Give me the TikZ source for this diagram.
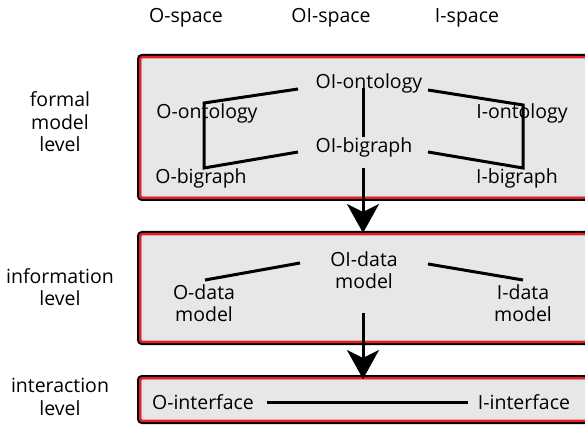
\documentclass[tikz,border=0pt]{standalone}
\usepackage{fontspec}
\setmainfont{Open Sans}
\usetikzlibrary{arrows.meta}
\definecolor{boxgray}{HTML}{E6E7E8}
\definecolor{edgered}{HTML}{ED1C24}

\begin{document}
\begin{tikzpicture}[x=1pt, y=-1pt, font=\fontsize{19.5}{22.5}\selectfont,
    link/.style={line width=3pt},
    flow/.style={line width=3pt, -{Stealth[length=29pt, width=32pt, inset=8pt]}},
    lbl/.style={align=center, inner sep=0pt}]
  \useasboundingbox (0,0) rectangle (585,427);
  % level boxes: black rim, red rim, grey body
  \foreach \yt/\yb in {54/201, 231/345, 375/424} {
    \draw[line width=4pt, fill=boxgray, rounded corners=3pt] (139,\yt+2) rectangle (600,\yb-2);
    \draw[edgered, line width=2.4pt, rounded corners=2pt] (140.2,\yt+3.2) rectangle (600,\yb-3.2);
  }
  % column and level labels
  \node[lbl] (ospace) at (186,18) {O-space};
  \node[lbl] (oispace) at (331,18) {OI-space};
  \node[lbl] (ispace) at (467,18) {I-space};
  \node[lbl] (lvformal) at (60,122) {formal\\model\\level};
  \node[lbl] (lvinfo) at (60,287) {information\\level};
  \node[lbl] (lvinter) at (60,397) {interaction\\level};
  % formal model level
  \node[lbl] (oiont) at (369,83) {OI-ontology};
  \node[lbl] (oont) at (207,113) {O-ontology};
  \node[lbl] (iont) at (522,113) {I-ontology};
  \node[lbl] (oibig) at (364,147) {OI-bigraph};
  \node[lbl] (obig) at (201,178) {O-bigraph};
  \node[lbl] (ibig) at (517,178) {I-bigraph};
  \coordinate (oiontL) at (298,89);
  \coordinate (oiontR) at (428,90);
  \coordinate (oiontB) at (363,88);
  \coordinate (oibigL) at (298,152);
  \coordinate (oibigR) at (428,152);
  \coordinate (oibigT) at (363,137);
  \coordinate (oibigB) at (363,168);
  \coordinate (oontA) at (204,103);
  \coordinate (obigA) at (204,168);
  \coordinate (iontA) at (523,105);
  \coordinate (ibigA) at (523,168);
  \draw[link] (oiontL) -- (oontA) -- (obigA) -- (oibigL);
  \draw[link] (oiontR) -- (iontA) -- (ibigA) -- (oibigR);
  \draw[link] (oiontB) -- (oibigT);
  % information level
  \node[lbl] (oidata) at (364,270) {OI-data\\model};
  \node[lbl] (odata) at (204,303) {O-data\\model};
  \node[lbl] (idata) at (523,303) {I-data\\model};
  \coordinate (oidataT) at (363,233);
  \coordinate (oidataL) at (300,263);
  \coordinate (oidataR) at (428,264);
  \coordinate (oidataB) at (363,313);
  \coordinate (odataA) at (205,280);
  \coordinate (idataA) at (523,280);
  \draw[link] (oidataL) -- (odataA);
  \draw[link] (oidataR) -- (idataA);
  \draw[flow] (oibigB) -- (oidataT);
  % interaction level
  \node[lbl] (oint) at (203,402) {O-interface};
  \node[lbl] (iint) at (524,402) {I-interface};
  \coordinate (ointR) at (267,402);
  \coordinate (iintL) at (468,402);
  \coordinate (iintT) at (363,379);
  \draw[link] (ointR) -- (iintL);
  \draw[flow] (oidataB) -- (iintT);
\end{tikzpicture}
\end{document}
